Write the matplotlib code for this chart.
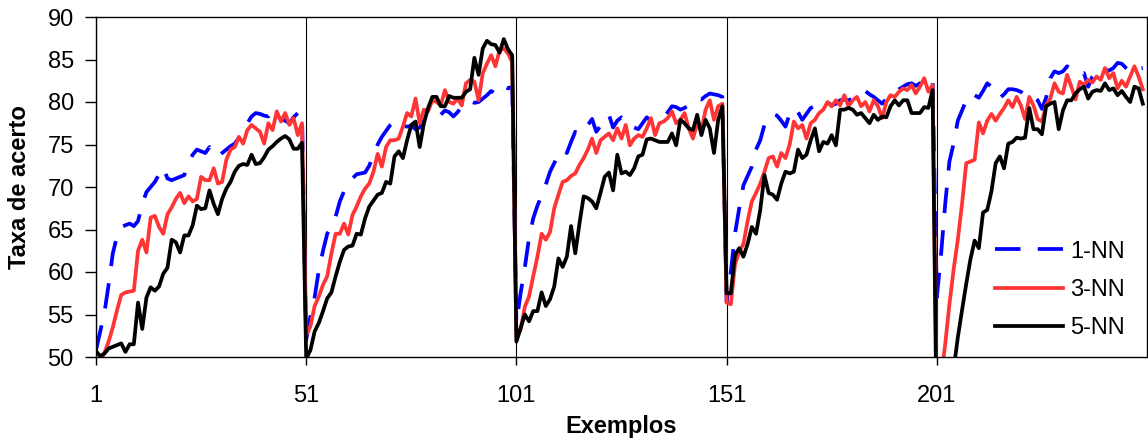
import matplotlib
matplotlib.use("Agg")
import matplotlib.pyplot as plt
import numpy as np

plt.rcParams['font.family'] = ['Liberation Sans', 'DejaVu Sans']

# taxa de acerto por exemplo (5 blocos de 50 exemplos)
nn1 = [
    50.8, 53.0, 55.2, 58.5, 62.2, 64.2, 65.3, 65.5, 65.7, 65.4,
    66.0, 68.0, 69.4, 70.0, 70.6, 71.5, 72.3, 71.0, 70.8, 71.0,
    71.2, 71.4, 72.8, 73.8, 74.4, 74.2, 74.0, 74.7, 73.8, 73.6,
    74.0, 74.4, 74.8, 75.1, 75.8, 76.6, 77.5, 78.3, 78.7, 78.6,
    78.4, 78.3, 79.1, 78.3, 78.0, 77.8, 77.5, 78.2, 78.7, 78.7,
    52.0, 54.8, 57.0, 60.2, 62.5, 64.5, 65.5, 66.5, 68.3, 69.5,
    70.4, 71.0, 71.5, 71.6, 71.7, 72.5, 73.8, 75.0, 75.9, 76.6,
    77.3, 77.8, 77.4, 77.2, 77.1, 77.2, 76.8, 77.0, 77.8, 78.0,
    78.2, 78.4, 78.5, 79.0, 78.8, 78.3, 78.8, 79.5, 80.0, 80.1,
    79.9, 80.0, 80.4, 80.8, 81.3, 81.0, 81.7, 81.9, 81.6, 81.8,
    54.0, 57.5, 60.5, 64.0, 66.3, 67.8, 69.0, 70.3, 71.8, 72.8,
    73.8, 74.4, 74.0, 75.3, 76.5, 76.2, 76.8, 77.3, 78.0, 76.5,
    77.2, 77.8, 78.5, 77.0, 77.8, 78.2, 77.8, 77.0, 77.0, 76.8,
    77.5, 78.2, 77.8, 77.9, 78.1, 78.1, 78.8, 79.5, 79.4, 79.1,
    79.3, 79.6, 80.2, 80.4, 80.3, 80.7, 81.0, 80.9, 80.8, 80.6,
    56.5, 60.0, 64.5, 67.5, 70.2, 71.3, 72.4, 74.4, 75.5, 77.3,
    78.2, 78.6, 78.4, 77.8, 77.1, 78.6, 79.3, 78.8, 77.9, 78.6,
    79.3, 79.5, 79.5, 79.7, 80.0, 79.6, 79.8, 80.2, 80.3, 80.2,
    80.4, 80.8, 81.2, 81.3, 80.9, 80.6, 80.2, 79.8, 80.4, 80.7,
    81.0, 81.5, 81.8, 82.1, 82.2, 81.9, 82.2, 82.5, 82.7, 82.8,
    57.0, 62.0, 68.0, 73.0, 75.1, 77.8, 79.0, 80.2, 81.0, 80.8,
    80.5, 81.3, 82.2, 81.8, 80.8, 80.5, 80.9, 81.5, 81.5, 81.4,
    81.2, 80.8, 81.0, 80.6, 80.2, 79.2, 80.5, 82.8, 83.6, 83.4,
    83.6, 84.2, 83.9, 83.5, 83.3, 83.4, 81.8, 83.0, 83.6, 83.9,
    83.8, 83.7, 84.0, 84.6, 84.5, 84.0, 83.6, 84.0, 83.9, 84.0,
]

nn3 = [
    49.0, 49.5, 50.5, 51.8, 53.5, 55.5, 57.3, 57.6, 57.7, 57.8,
    62.5, 63.8, 62.3, 66.4, 66.6, 65.3, 64.5, 66.8, 67.6, 68.6,
    69.3, 68.1, 68.9, 68.3, 68.6, 71.2, 70.8, 70.8, 72.2, 70.4,
    70.6, 73.2, 74.4, 74.7, 75.9, 75.1, 76.7, 77.3, 76.9, 76.5,
    75.1, 77.5, 76.7, 78.9, 77.7, 78.7, 77.3, 78.1, 76.1, 77.5,
    52.6, 53.6, 56.0, 57.1, 58.5, 59.5, 62.2, 64.5, 64.5, 65.7,
    64.4, 66.7, 67.7, 68.9, 69.8, 70.4, 71.8, 73.9, 72.4, 74.7,
    75.5, 75.5, 75.7, 77.1, 78.7, 78.3, 80.4, 77.5, 79.1, 78.9,
    80.2, 80.0, 79.6, 81.4, 80.0, 79.8, 80.4, 79.6, 82.2, 82.6,
    82.4, 80.2, 83.4, 84.5, 85.5, 84.2, 86.1, 86.3, 85.7, 84.7,
    52.2, 53.2, 55.9, 57.1, 59.5, 61.8, 64.5, 63.8, 64.7, 67.5,
    69.1, 70.6, 70.8, 71.3, 71.6, 72.6, 73.4, 74.4, 75.7, 74.0,
    75.5, 75.9, 76.3, 75.5, 76.9, 75.7, 77.3, 74.9, 75.7, 76.1,
    75.9, 76.9, 78.1, 76.1, 77.5, 77.7, 78.1, 78.9, 77.5, 77.9,
    78.7, 76.9, 75.7, 77.5, 76.5, 79.1, 80.2, 77.9, 79.5, 79.8,
    56.4, 56.2, 60.9, 62.4, 63.3, 66.0, 68.3, 69.3, 70.4, 71.8,
    73.4, 73.6, 72.4, 74.0, 73.4, 75.0, 77.7, 76.9, 77.3, 75.7,
    77.5, 77.9, 78.7, 79.1, 80.0, 79.5, 80.2, 79.6, 80.8, 79.5,
    80.2, 80.6, 79.5, 80.0, 78.9, 80.2, 79.5, 78.1, 80.0, 80.8,
    80.6, 81.2, 81.6, 81.4, 82.0, 81.0, 81.8, 82.8, 81.2, 82.0,
    44.0, 47.5, 51.5, 56.2, 60.3, 63.8, 68.0, 72.8, 73.0, 73.2,
    77.6, 76.3, 77.8, 78.6, 77.8, 78.6, 79.3, 80.2, 79.4, 80.6,
    79.6, 78.0, 80.6, 79.6, 78.0, 77.7, 79.6, 80.4, 82.2, 81.2,
    81.0, 83.2, 81.8, 80.3, 82.4, 82.0, 82.6, 82.3, 83.0, 82.6,
    84.0, 82.8, 83.4, 81.6, 82.5, 81.8, 83.0, 84.2, 83.0, 81.5,
]

nn5 = [
    50.7, 50.1, 50.4, 51.0, 51.2, 51.4, 51.6, 50.6, 51.5, 51.5,
    56.4, 53.3, 57.0, 58.2, 57.8, 58.3, 59.8, 60.5, 63.8, 63.5,
    62.3, 64.3, 64.3, 65.5, 67.8, 67.4, 67.5, 69.6, 68.0, 66.8,
    68.6, 69.8, 70.6, 71.8, 72.5, 72.7, 72.6, 73.8, 72.7, 72.8,
    73.5, 74.4, 74.8, 75.3, 75.7, 76.0, 75.6, 74.5, 74.5, 75.2,
    49.8, 50.8, 53.0, 54.0, 55.4, 56.9, 57.6, 59.5, 61.2, 62.6,
    63.0, 63.1, 64.5, 64.4, 66.3, 67.7, 68.4, 69.1, 69.3, 70.6,
    70.4, 73.6, 74.2, 73.4, 75.5, 77.3, 77.7, 74.7, 77.5, 79.3,
    80.6, 80.6, 79.5, 79.5, 80.7, 80.5, 80.5, 80.5, 81.2, 81.5,
    85.2, 83.2, 86.3, 87.2, 86.8, 86.7, 85.8, 87.4, 86.2, 85.5,
    51.8, 53.4, 55.0, 54.2, 55.4, 55.4, 57.6, 56.0, 56.8, 58.3,
    61.6, 60.6, 61.8, 65.4, 62.2, 65.7, 68.9, 68.7, 68.3, 67.5,
    69.3, 71.2, 71.7, 69.6, 73.8, 71.6, 71.8, 71.4, 72.2, 73.6,
    73.8, 75.6, 75.7, 75.5, 75.3, 75.3, 75.3, 76.3, 74.9, 77.9,
    77.5, 76.9, 76.7, 78.5, 76.1, 77.9, 76.9, 74.0, 77.9, 79.5,
    57.5, 57.5, 62.0, 62.8, 61.8, 63.3, 65.3, 64.5, 67.3, 71.4,
    69.3, 69.1, 68.5, 70.4, 71.8, 71.6, 71.8, 74.4, 73.4, 73.8,
    75.5, 76.9, 74.2, 75.3, 75.1, 76.1, 74.9, 79.1, 79.1, 79.3,
    79.1, 78.5, 78.7, 78.1, 77.5, 78.5, 77.9, 78.3, 78.2, 79.5,
    80.2, 79.6, 80.2, 80.2, 78.7, 78.7, 78.7, 79.4, 79.3, 81.4,
    40.0, 43.0, 44.5, 46.5, 48.5, 52.3, 55.5, 58.6, 61.5, 63.7,
    62.8, 67.0, 67.3, 69.5, 72.8, 73.6, 72.2, 75.1, 75.3, 75.8,
    75.7, 75.8, 79.3, 76.8, 76.8, 76.2, 79.5, 79.8, 80.0, 76.8,
    79.0, 80.2, 80.2, 81.0, 81.5, 81.8, 80.4, 81.2, 81.4, 81.3,
    82.2, 81.4, 81.6, 80.8, 81.3, 80.6, 80.0, 81.8, 81.6, 79.8,
]

x = np.arange(1, len(nn1) + 1)
xticks = [1, 51, 101, 151, 201]

fig = plt.figure(figsize=(11.48, 4.43), dpi=100)
ax = fig.add_axes([96/1148, 86/443, 1051/1148, 340/443])

ax.plot(x, nn1, color='#0000ff', lw=2.7, linestyle=(0, (6.8, 4.6)), label='1-NN')
ax.plot(x, nn3, color='#ff3535', lw=2.7, label='3-NN')
ax.plot(x, nn5, color='black', lw=2.7, label='5-NN')

ax.set_xlim(1, 251)
ax.set_ylim(50, 90)
ax.set_xticks(xticks)
ax.set_yticks(np.arange(50, 91, 5))
ax.xaxis.grid(True, color='black', lw=0.8)
ax.tick_params(axis='x', direction='out', length=6, width=1, labelsize=17, pad=14)
ax.tick_params(axis='y', direction='out', length=8, width=1, labelsize=17, pad=8)
for s in ax.spines.values():
    s.set_linewidth(1.0)

ax.set_xlabel('Exemplos', fontsize=17, fontweight='bold', labelpad=6)
ax.set_ylabel('Taxa de acerto', fontsize=17, fontweight='bold', labelpad=12)

ax.legend(loc='upper left', bbox_to_anchor=(0.855, 0.342), frameon=False,
          fontsize=17, handlelength=2.9, handletextpad=0.3, labelspacing=0.68,
          borderpad=0, borderaxespad=0)

fig.savefig('out.png', dpi=100)
